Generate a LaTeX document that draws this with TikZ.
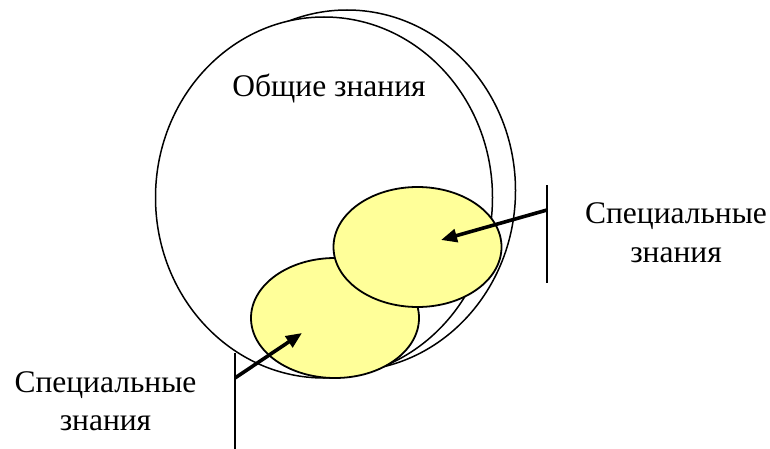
\documentclass[tikz,border=0pt]{standalone}
\usepackage{fontspec}
\setmainfont{Liberation Serif}
\usetikzlibrary{arrows.meta,shapes.geometric}
\definecolor{paleyellow}{HTML}{FFFF99}

\begin{document}
\begin{tikzpicture}[
  x=1pt, y=-1pt,
  sphere/.style={ellipse, draw, fill=white, line width=1.5pt, inner sep=0pt, minimum width=337pt, minimum height=361pt},
  part/.style={ellipse, draw, fill=paleyellow, line width=1.8pt, inner sep=0pt, minimum width=168pt, minimum height=120pt},
  lbl/.style={font=\fontsize{31.5}{38}\selectfont, anchor=base, inner sep=0pt},
  bar/.style={line width=2.8pt},
  arr/.style={-{Triangle[length=16pt,width=13pt]}, line width=3.6pt}
]
\path[use as bounding box] (0,0) rectangle (770,449);

% the two big spheres
\node[sphere] (back) at (347,190.5) {};
\node[sphere] (front) at (324,197.5) {};

% special parts
\node[part] (low) at (335,318) {};
\node[part] (up) at (417.5,247) {};

% labels
\node[lbl] (general) at (329,97) {Общие знания};
\node[lbl] (rspec1) at (676,223) {Специальные};
\node[lbl] (rspec2) at (676,262) {знания};
\node[lbl] (lspec1) at (105.5,392) {Специальные};
\node[lbl] (lspec2) at (105.5,430) {знания};

% brackets and arrows
\coordinate (rtop) at (547,185);
\coordinate (rbot) at (547,283);
\coordinate (rfoot) at (547,210);
\coordinate (rtip) at (441,240);
\coordinate (ltop) at (235,353);
\coordinate (lbot) at (235,449);
\coordinate (lfoot) at (235,378);
\coordinate (ltip) at (302,333);

\draw[bar] (rtop) -- (rbot);
\draw[bar] (ltop) -- (lbot);
\draw[arr] (rfoot) -- (rtip);
\draw[arr] (lfoot) -- (ltip);
\end{tikzpicture}
\end{document}
